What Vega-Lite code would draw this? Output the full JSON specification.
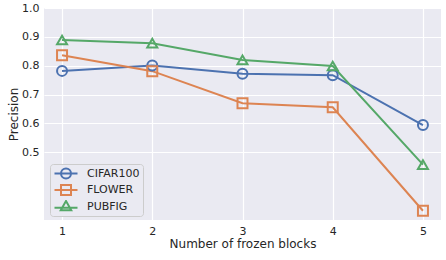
{
  "$schema": "https://vega.github.io/schema/vega-lite/v6.json",
  "width": 397,
  "height": 212,
  "autosize": {"type": "none"},
  "padding": {"left": 44, "top": 8, "right": 5, "bottom": 40},
  "background": "white",
  "config": {
    "font": "DejaVu Sans",
    "view": {"fill": "#EAEAF2", "stroke": null},
    "axis": {
      "domain": false,
      "ticks": false,
      "gridColor": "white",
      "gridWidth": 1.2,
      "labelColor": "#262626",
      "titleColor": "#262626",
      "labelFontSize": 11,
      "titleFontSize": 12,
      "titleFontWeight": "normal",
      "labelPadding": 5
    }
  },
  "data": {
    "values": [
      {"blocks": 1, "dataset": "CIFAR100", "precision": 0.782},
      {"blocks": 2, "dataset": "CIFAR100", "precision": 0.801},
      {"blocks": 3, "dataset": "CIFAR100", "precision": 0.772},
      {"blocks": 4, "dataset": "CIFAR100", "precision": 0.767},
      {"blocks": 5, "dataset": "CIFAR100", "precision": 0.594},
      {"blocks": 1, "dataset": "FLOWER", "precision": 0.836},
      {"blocks": 2, "dataset": "FLOWER", "precision": 0.781},
      {"blocks": 3, "dataset": "FLOWER", "precision": 0.670},
      {"blocks": 4, "dataset": "FLOWER", "precision": 0.656},
      {"blocks": 5, "dataset": "FLOWER", "precision": 0.297},
      {"blocks": 1, "dataset": "PUBFIG", "precision": 0.889},
      {"blocks": 2, "dataset": "PUBFIG", "precision": 0.878},
      {"blocks": 3, "dataset": "PUBFIG", "precision": 0.820},
      {"blocks": 4, "dataset": "PUBFIG", "precision": 0.799},
      {"blocks": 5, "dataset": "PUBFIG", "precision": 0.457}
    ]
  },
  "encoding": {
    "x": {
      "field": "blocks",
      "type": "quantitative",
      "scale": {"domain": [0.8, 5.2], "nice": false, "zero": false},
      "axis": {"values": [1, 2, 3, 4, 5], "title": "Number of frozen blocks", "titlePadding": 2, "format": "d"}
    },
    "y": {
      "field": "precision",
      "type": "quantitative",
      "scale": {"domain": [0.265, 1.0], "nice": false, "zero": false},
      "axis": {"values": [0.5, 0.6, 0.7, 0.8, 0.9, 1.0], "title": "Precision", "format": ".1f", "titlePadding": 1}
    }
  },
  "layer": [
    {
      "mark": {"type": "line", "strokeWidth": 2},
      "encoding": {
        "color": {
          "field": "dataset",
          "type": "nominal",
          "scale": {"domain": ["CIFAR100", "FLOWER", "PUBFIG"], "range": ["#4C72B0", "#DD8452", "#55A868"]},
          "legend": null
        }
      }
    },
    {
      "mark": {"type": "point", "filled": false, "strokeWidth": 2, "size": 100, "opacity": 1},
      "encoding": {
        "color": {
          "field": "dataset",
          "type": "nominal",
          "scale": {"domain": ["CIFAR100", "FLOWER", "PUBFIG"], "range": ["#4C72B0", "#DD8452", "#55A868"]},
          "legend": {
            "title": null,
            "orient": "none",
            "legendX": 6,
            "legendY": 156,
            "fillColor": "#EAEAF2",
            "strokeColor": "#CCCCCC",
            "cornerRadius": 3,
            "padding": 3,
            "symbolSize": 100,
            "symbolStrokeWidth": 2,
            "symbolFillColor": "transparent",
            "symbolOffset": 7,
            "labelOffset": 15,
            "labelFontSize": 11,
            "labelColor": "#262626",
            "rowPadding": 3.5,
            "clipHeight": 13,
            "encoding": {
              "symbols": {
                "shape": {"value": {"expr": "datum.value === 'CIFAR100' ? 'M-2.3,0H2.3M1,0A1,1,0,1,1,-1,0A1,1,0,1,1,1,0' : datum.value === 'FLOWER' ? 'M-2.3,0H2.3M-1,-1H1V1H-1Z' : 'M-2.3,0.25H2.3M0,-1.1L1.05,0.75L-1.05,0.75Z'"}},
                "fill": {"value": "transparent"},
                "strokeWidth": {"value": 2}
              }
            }
          }
        },
        "shape": {
          "field": "dataset",
          "type": "nominal",
          "scale": {"domain": ["CIFAR100", "FLOWER", "PUBFIG"], "range": ["circle", "square", "triangle-up"]},
          "legend": null
        }
      }
    }
  ],
  "resolve": {"legend": {"color": "independent"}}
}
